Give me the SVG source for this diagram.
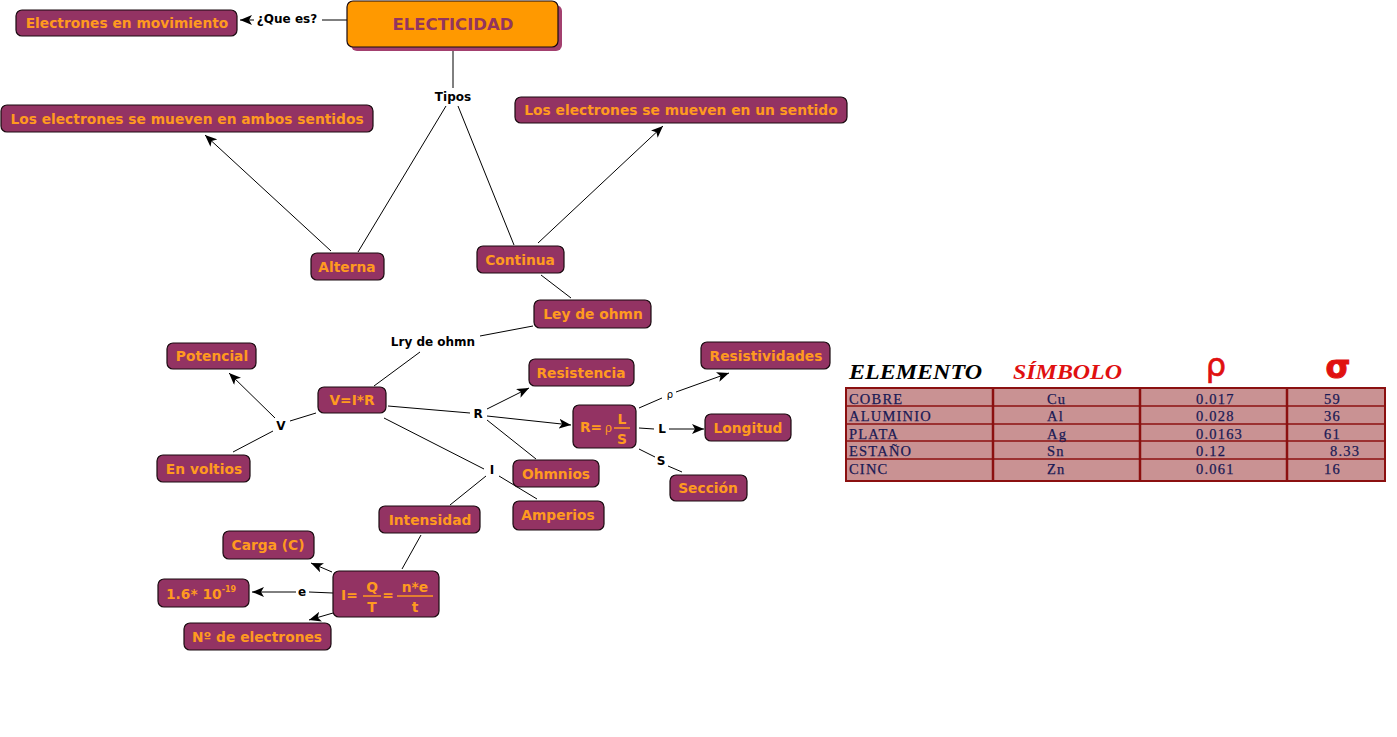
<svg xmlns="http://www.w3.org/2000/svg" width="1397" height="737" viewBox="0 0 1397 737">
<defs>
<style>
.n{fill:#933363;stroke:#1a0a10;stroke-width:1.2}
.t{font-family:"DejaVu Sans",Verdana,sans-serif;font-weight:bold;font-size:13.8px;fill:#FF9A1F;text-anchor:middle}
.lb{font-family:"DejaVu Sans",Verdana,sans-serif;font-weight:bold;font-size:12px;fill:#000;text-anchor:middle}
.c line,.c path{stroke:#000;stroke-width:1;fill:none}
.a{marker-end:url(#ah)}
.cell{fill:#C99293;stroke:#8B1010;stroke-width:2}
.tt{font-family:"Liberation Serif","Times New Roman",serif;font-size:14.5px;letter-spacing:1.2px;fill:#1a1a55;stroke:#1a1a55;stroke-width:0.25}
</style>
<marker id="ah" markerUnits="userSpaceOnUse" markerWidth="13" markerHeight="10" refX="12" refY="5" orient="auto">
<path d="M0,0 L12,5 L0,10 L3,5 z" fill="#000"/>
</marker>
</defs>
<rect width="1397" height="737" fill="#fff"/>

<g class="c" id="connectors">
<line x1="347" y1="20" x2="322" y2="20"/>
<line x1="254" y1="20" x2="240" y2="20" class="a"/>
<line x1="453" y1="48" x2="453" y2="88"/>
<line x1="446" y1="106" x2="358" y2="252"/>
<line x1="458" y1="106" x2="514" y2="245"/>
<line x1="331" y1="251" x2="205" y2="135" class="a"/>
<line x1="538" y1="243" x2="663" y2="126" class="a"/>
<line x1="541" y1="275" x2="571" y2="298"/>
<line x1="533" y1="326" x2="480" y2="336"/>
<line x1="420" y1="352" x2="374" y2="386"/>
<line x1="316" y1="413" x2="290" y2="421"/>
<line x1="275" y1="418" x2="229" y2="373" class="a"/>
<line x1="273" y1="431" x2="233" y2="452"/>
<line x1="388" y1="406" x2="470" y2="413"/>
<line x1="487" y1="409" x2="529" y2="388" class="a"/>
<line x1="487" y1="416" x2="571" y2="425" class="a"/>
<line x1="487" y1="420" x2="536" y2="459"/>
<line x1="384" y1="418" x2="484" y2="469"/>
<line x1="499" y1="476" x2="537" y2="499"/>
<line x1="486" y1="476" x2="450" y2="505"/>
<line x1="421" y1="535" x2="402" y2="569"/>
<line x1="639" y1="408" x2="662" y2="398"/>
<line x1="676" y1="392" x2="729" y2="373" class="a"/>
<line x1="639" y1="428" x2="654" y2="429"/>
<line x1="669" y1="429" x2="704" y2="429" class="a"/>
<line x1="639" y1="449" x2="655" y2="457"/>
<line x1="668" y1="466" x2="682" y2="472"/>
<line x1="332" y1="572" x2="311" y2="563" class="a"/>
<line x1="333" y1="593" x2="309" y2="592"/>
<line x1="296" y1="592" x2="252" y2="592" class="a"/>
<line x1="333" y1="613" x2="309" y2="620" class="a"/>
</g>

<g id="labels">
<text class="lb" x="287" y="23">¿Que es?</text>
<text class="lb" x="453" y="101">Tipos</text>
<text class="lb" x="433" y="346">Lry de ohmn</text>
<text class="lb" x="281" y="430">V</text>
<text class="lb" x="478" y="418">R</text>
<text class="lb" x="492" y="474">I</text>
<text class="lb" x="670" y="398" style="font-size:10px;font-weight:normal">ρ</text>
<text class="lb" x="662" y="433">L</text>
<text class="lb" x="661" y="465">S</text>
<text class="lb" x="302" y="596">e</text>
</g>

<g id="n-electricidad">
<rect x="351" y="5" width="211" height="46" rx="6" fill="#A3406F"/>
<rect x="347" y="1" width="211" height="46" rx="6" fill="#FF9900" stroke="#1a0a10" stroke-width="1.2"/>
<text x="453" y="30" style="font-family:'DejaVu Sans',Verdana,sans-serif;font-weight:bold;font-size:16.5px;fill:#93355F;text-anchor:middle">ELECTICIDAD</text>
</g>
<g id="n-movimiento"><rect class="n" x="16" y="10" width="221" height="26" rx="6"/><text class="t" x="127" y="28">Electrones en movimiento</text></g>
<g id="n-ambos"><rect class="n" x="1" y="105" width="372" height="27" rx="6"/><text class="t" x="187" y="124">Los electrones se mueven en ambos sentidos</text></g>
<g id="n-unsentido"><rect class="n" x="515" y="97" width="332" height="26" rx="6"/><text class="t" x="681" y="115">Los electrones se mueven en un sentido</text></g>
<g id="n-alterna"><rect class="n" x="311" y="253" width="73" height="27" rx="6"/><text class="t" x="347" y="272">Alterna</text></g>
<g id="n-continua"><rect class="n" x="477" y="246" width="87" height="27" rx="6"/><text class="t" x="520" y="265">Continua</text></g>
<g id="n-ley"><rect class="n" x="534" y="300" width="117" height="28" rx="6"/><text class="t" x="593" y="319">Ley de ohmn</text></g>
<g id="n-potencial"><rect class="n" x="167" y="343" width="89" height="26" rx="6"/><text class="t" x="212" y="361">Potencial</text></g>
<g id="n-vir"><rect class="n" x="318" y="387" width="68" height="26" rx="6"/><text class="t" x="352" y="405">V=I*R</text></g>
<g id="n-resistencia"><rect class="n" x="529" y="359" width="105" height="27" rx="6"/><text class="t" x="581" y="378">Resistencia</text></g>
<g id="n-resistividades"><rect class="n" x="701" y="342" width="129" height="27" rx="6"/><text class="t" x="766" y="361">Resistividades</text></g>
<g id="n-rformula">
<rect class="n" x="573" y="405" width="63" height="43" rx="6"/>
<text class="t" x="580" y="432" style="text-anchor:start">R=</text>
<text x="605" y="432" style="font-family:'DejaVu Serif',serif;font-size:12px;fill:#FF9A1F">ρ</text>
<text class="t" x="622" y="424">L</text>
<line x1="614" y1="428" x2="630" y2="428" stroke="#FF9A1F" stroke-width="1.5"/>
<text class="t" x="622" y="444">S</text>
</g>
<g id="n-longitud"><rect class="n" x="705" y="414" width="86" height="27" rx="6"/><text class="t" x="748" y="433">Longitud</text></g>
<g id="n-voltios"><rect class="n" x="157" y="455" width="93" height="27" rx="6"/><text class="t" x="204" y="474">En voltios</text></g>
<g id="n-ohmnios"><rect class="n" x="513" y="460" width="86" height="27" rx="6"/><text class="t" x="556" y="479">Ohmnios</text></g>
<g id="n-seccion"><rect class="n" x="670" y="475" width="77" height="26" rx="6"/><text class="t" x="708" y="493">Sección</text></g>
<g id="n-amperios"><rect class="n" x="513" y="501" width="91" height="29" rx="6"/><text class="t" x="558" y="520">Amperios</text></g>
<g id="n-intensidad"><rect class="n" x="379" y="506" width="101" height="27" rx="6"/><text class="t" x="430" y="525">Intensidad</text></g>
<g id="n-carga"><rect class="n" x="223" y="531" width="91" height="28" rx="6"/><text class="t" x="268" y="550">Carga (C)</text></g>
<g id="n-carga-e"><rect class="n" x="158" y="579" width="91" height="28" rx="6"/>
<text class="t" x="166" y="599" style="text-anchor:start">1.6* 10<tspan dy="-7" style="font-size:8px">-19</tspan></text></g>
<g id="n-iformula">
<rect class="n" x="333" y="571" width="106" height="46" rx="6"/>
<text class="t" x="341" y="600" style="text-anchor:start">I=</text>
<text class="t" x="372" y="592">Q</text>
<line x1="363" y1="596" x2="381" y2="596" stroke="#FF9A1F" stroke-width="1.5"/>
<text class="t" x="372" y="612">T</text>
<text class="t" x="388" y="600">=</text>
<text class="t" x="415" y="592">n*e</text>
<line x1="397" y1="596" x2="433" y2="596" stroke="#FF9A1F" stroke-width="1.5"/>
<text class="t" x="415" y="612">t</text>
</g>
<g id="n-nelectrones"><rect class="n" x="184" y="623" width="147" height="27" rx="6"/><text class="t" x="257" y="642">Nº de electrones</text></g>

<g id="table">
<text x="849" y="379" textLength="133" lengthAdjust="spacingAndGlyphs" style="font-family:'Liberation Serif',serif;font-weight:bold;font-style:italic;font-size:22px;fill:#000">ELEMENTO</text>
<text x="1013" y="379" textLength="109" lengthAdjust="spacingAndGlyphs" style="font-family:'Liberation Serif',serif;font-weight:bold;font-style:italic;font-size:21px;fill:#E01010">SÍMBOLO</text>
<text x="1216" y="376" style="font-family:'DejaVu Sans',sans-serif;font-size:32px;fill:#E01010;stroke:#E01010;stroke-width:0.6;text-anchor:middle">ρ</text>
<text x="1338" y="378" style="font-family:'DejaVu Sans',sans-serif;font-weight:bold;font-size:32px;fill:#E01010;stroke:#E01010;stroke-width:1;text-anchor:middle">σ</text>
<rect class="cell" x="846" y="388" width="539" height="93"/>
<g stroke="#8B1010" stroke-width="1.5">
<line x1="846" y1="406" x2="1385" y2="406"/>
<line x1="846" y1="424" x2="1385" y2="424"/>
<line x1="846" y1="441" x2="1385" y2="441"/>
<line x1="846" y1="459" x2="1385" y2="459"/>
</g>
<g stroke="#8B1010" stroke-width="2.5">
<line x1="993" y1="388" x2="993" y2="481"/>
<line x1="1140" y1="388" x2="1140" y2="481"/>
<line x1="1287" y1="388" x2="1287" y2="481"/>
</g>
<text class="tt" x="849" y="404">COBRE</text>
<text class="tt" x="849" y="421">ALUMINIO</text>
<text class="tt" x="849" y="439">PLATA</text>
<text class="tt" x="849" y="456">ESTAÑO</text>
<text class="tt" x="849" y="474">CINC</text>
<text class="tt" x="1047" y="404">Cu</text>
<text class="tt" x="1047" y="421">Al</text>
<text class="tt" x="1047" y="439">Ag</text>
<text class="tt" x="1047" y="456">Sn</text>
<text class="tt" x="1047" y="474">Zn</text>
<text class="tt" x="1196" y="404">0.017</text>
<text class="tt" x="1196" y="421">0.028</text>
<text class="tt" x="1196" y="439">0.0163</text>
<text class="tt" x="1196" y="456">0.12</text>
<text class="tt" x="1196" y="474">0.061</text>
<text class="tt" x="1324" y="404">59</text>
<text class="tt" x="1324" y="421">36</text>
<text class="tt" x="1324" y="439">61</text>
<text class="tt" x="1330" y="456">8.33</text>
<text class="tt" x="1324" y="474">16</text>
</g>
</svg>
